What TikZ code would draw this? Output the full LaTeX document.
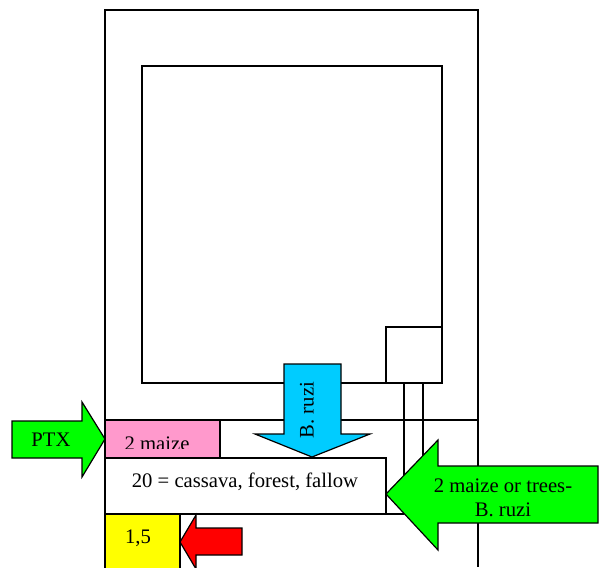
\documentclass[tikz,border=0pt]{standalone}
\usepackage{fontspec}
\setmainfont{Liberation Serif}
\definecolor{maizepink}{RGB}{255,153,204}
\definecolor{ruziblue}{RGB}{0,204,255}
\definecolor{arrowgreen}{RGB}{0,255,0}
\definecolor{plotyellow}{RGB}{255,255,0}
\definecolor{arrowred}{RGB}{255,0,0}
\begin{document}
\begin{tikzpicture}[x=0.75pt,y=-0.75pt,line width=0.9pt,
   lbl/.style={font=\fontsize{15.5}{18}\selectfont}]
   \useasboundingbox (0,0) rectangle (599,567);
   % field borders
   \draw (105,567)--(105,10)--(478,10)--(478,567);
   \draw (142,66) rectangle (442,383);
   \draw (386,327) rectangle (442,383);
   \draw (404,383)--(404,514);
   \draw (423,383)--(423,514);
   \draw (105,420)--(478,420);
   % plots
   \filldraw[fill=maizepink] (105,420) rectangle (220,458);
   \begin{scope}
      \clip (105,420) rectangle (220,448);
      \node (maize) at (157,450) [anchor=base,lbl]{2 maize};
   \end{scope}
   \filldraw[fill=white] (105,458) rectangle (386,514);
   \draw (386,514)--(404,514);
   \node (cassava) at (245,482) [lbl]{20 = cassava, forest, fallow};
   \filldraw[fill=plotyellow] (105,514) rectangle (180,580);
   \node (onefive) at (138,538) [lbl]{1,5};
   % arrows
   \filldraw[fill=arrowgreen] (12,421)--(82,421)--(82,402)--(105,439)--(82,477)--(82,458)--(12,458)--cycle;
   \node (ptx) at (51,440) [lbl]{PTX};
   \filldraw[fill=ruziblue] (284,364)--(341,364)--(341,434)--(370,434)--(312,457)--(255,434)--(284,434)--cycle;
   \node (ruzi) at (307,410) [lbl,rotate=90]{B. ruzi};
   \filldraw[fill=arrowgreen] (386,494)--(438,440)--(438,466)--(598,466)--(598,523)--(438,523)--(438,550)--cycle;
   \node (trees) at (503,498) [lbl,align=center]{2 maize or trees-\\B. ruzi};
   \filldraw[fill=arrowred] (180,542)--(196,515)--(196,528)--(242,528)--(242,555)--(196,555)--(196,569)--cycle;
\end{tikzpicture}
\end{document}
